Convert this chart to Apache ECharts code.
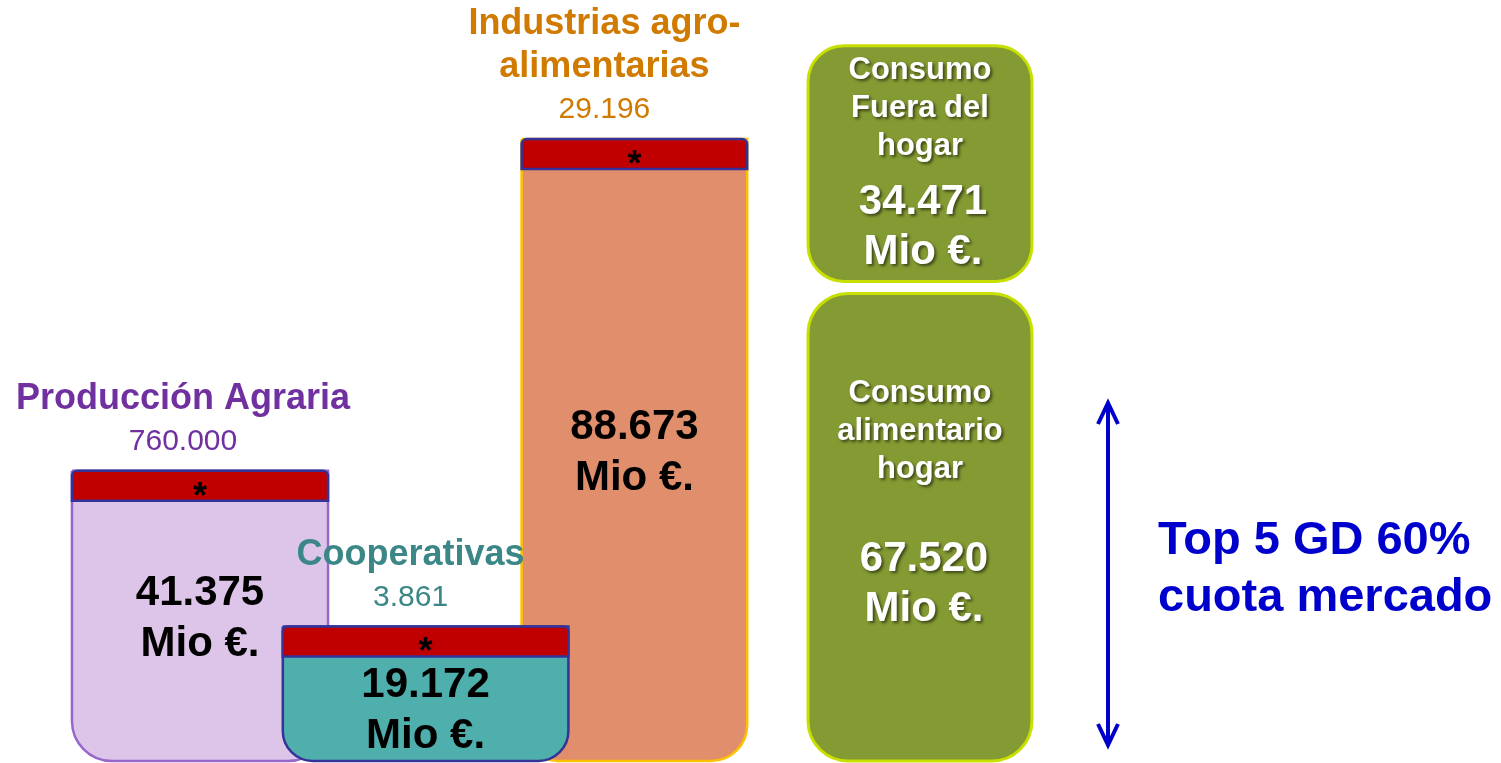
<!DOCTYPE html>
<html>
<head>
<meta charset="utf-8">
<script src="https://cdn.jsdelivr.net/npm/echarts@6/dist/echarts.min.js"></script>
<style>
html, body { margin: 0; padding: 0; background: #fff; }
#main { width: 1501px; height: 763px; }
</style>
</head>
<body>
<div id="main"></div>
<script>
// datos (Mio € y nº de entidades)
var stages = ['Producción Agraria', 'Cooperativas', 'Industrias agro-\nalimentarias'];
var stageValues = [41375, 19172, 88673];
var stageCounts = [760000, 3861, 29196];
var consumoNames = ['Consumo\nalimentario\nhogar', 'Consumo\nFuera del\nhogar'];
var consumoValues = [67520, 34471];
var noteText = 'Top 5 GD 60%\ncuota mercado';

var FONT = '"Liberation Sans", Arial, sans-serif';

function fmt(n) {
	return String(n).replace(/\B(?=(\d{3})+(?!\d))/g, '.');
}

// estilo de cada columna (desplazamiento y ancho en fracciones de la banda)
var stageStyle = [
	{ fill: '#dcc5e8', stroke: '#9966cc', color: '#7030a0', shift: 0, width: 1.067, r: 40, dx: -17 },
	{ fill: '#4fafac', stroke: '#333399', color: '#3b8787', shift: -0.06, width: 1.19, r: 30, dx: -15 },
	{ fill: '#e08e6b', stroke: '#ffc000', color: '#d17a00', shift: -0.19, width: 0.94, r: 36, dx: -30 }
];
var consumoStyle = [
	{ titleAt: 0.296, valueAt: 0.623, dx: 4, r: 40 },
	{ titleAt: 0.267, valueAt: 0.773, dx: 3, r: 36 }
];

// orden de dibujo: Producción, Industrias, Cooperativas, Consumo
var marks = [];
[0, 2, 1].forEach(function(i) {
	marks.push({ kind: 'stage', idx: i, value: [i, 0, stageValues[i]] });
});
var base = 0;
consumoValues.forEach(function(v, i) {
	marks.push({ kind: 'consumo', idx: i, value: [3, base, base + v] });
	base += v;
});

function renderItem(params, api) {
	var m = marks[params.dataIndex];
	var band = api.size([1, 0])[0];
	var p0 = api.coord([api.value(0), api.value(1)]);
	var p1 = api.coord([api.value(0), api.value(2)]);
	var children = [];

	if (m.kind === 'stage') {
		var st = stageStyle[m.idx];
		var w = st.width * band;
		var cx = p0[0] + st.shift * band;
		var x = cx - w / 2;
		var top = p1[1], bottom = p0[1];
		var capH = 30;
		var textY = Math.max((top + capH + bottom) / 2 - 12, top + capH + 54);
		children.push({
			type: 'rect',
			shape: { x: x, y: top, width: w, height: bottom - top, r: [0, 0, st.r, st.r] },
			style: { fill: st.fill, stroke: st.stroke, lineWidth: 2.5 }
		});
		children.push({
			type: 'rect',
			shape: { x: x, y: top, width: w, height: capH, r: [5, 5, 0, 0] },
			style: { fill: '#c00000', stroke: '#333399', lineWidth: 2.5 }
		});
		children.push({
			type: 'text',
			style: {
				text: '*', x: cx, y: top + capH / 2 + 12,
				align: 'center', verticalAlign: 'middle', textAlign: 'center', textVerticalAlign: 'middle',
				fill: '#000', fontSize: 36, fontWeight: 'bold', fontFamily: FONT
			}
		});
		children.push({
			type: 'text',
			style: {
				text: fmt(stageValues[m.idx]) + '\nMio €.', x: cx, y: textY,
				align: 'center', verticalAlign: 'middle', textAlign: 'center', textVerticalAlign: 'middle',
				lineHeight: 51, fill: '#000', fontSize: 42, fontWeight: 'bold', fontFamily: FONT
			}
		});
		children.push({
			type: 'text',
			style: {
				text: fmt(stageCounts[m.idx]), x: cx + st.dx, y: top - 29,
				align: 'center', verticalAlign: 'middle', textAlign: 'center', textVerticalAlign: 'middle',
				fill: st.color, fontSize: 30, fontFamily: FONT
			}
		});
		children.push({
			type: 'text',
			style: {
				text: stages[m.idx], x: cx + st.dx, y: top - 50,
				align: 'center', verticalAlign: 'bottom', textAlign: 'center', textVerticalAlign: 'bottom',
				lineHeight: 43, fill: st.color, fontSize: 36, fontWeight: 'bold', fontFamily: FONT
			}
		});
	} else {
		var cs = consumoStyle[m.idx];
		var w2 = 0.933 * band;
		var cx2 = p0[0];
		var top2 = p1[1] + (m.idx === 0 ? 6 : 0);
		var bottom2 = p0[1] - (m.idx === 1 ? 6 : 0);
		var h = bottom2 - top2;
		var shadow = {
			textShadowColor: 'rgba(0,0,0,0.55)', textShadowBlur: 3,
			textShadowOffsetX: 2, textShadowOffsetY: 2
		};
		children.push({
			type: 'rect',
			shape: { x: cx2 - w2 / 2, y: top2, width: w2, height: h, r: cs.r },
			style: { fill: '#849b33', stroke: '#c8e000', lineWidth: 3 }
		});
		children.push({
			type: 'text',
			style: Object.assign({
				text: consumoNames[m.idx], x: cx2, y: top2 + h * cs.titleAt,
				align: 'center', verticalAlign: 'middle', textAlign: 'center', textVerticalAlign: 'middle',
				lineHeight: 38, fill: '#fff', fontSize: 31, fontWeight: 'bold', fontFamily: FONT
			}, shadow)
		});
		children.push({
			type: 'text',
			style: Object.assign({
				text: fmt(consumoValues[m.idx]) + '\nMio €.', x: cx2 + cs.dx, y: top2 + h * cs.valueAt,
				align: 'center', verticalAlign: 'middle', textAlign: 'center', textVerticalAlign: 'middle',
				lineHeight: 50, fill: '#fff', fontSize: 42, fontWeight: 'bold', fontFamily: FONT
			}, shadow)
		});
	}
	return { type: 'group', children: children };
}

var myChart = echarts.init(document.getElementById('main'));
var option = {
	animation: false,
	backgroundColor: '#fff',
	grid: { left: 80, right: 461, top: 0, bottom: 2 },
	xAxis: {
		type: 'category',
		data: ['Producción Agraria', 'Cooperativas', 'Industrias agro-alimentarias', 'Consumo'],
		show: false
	},
	yAxis: { type: 'value', min: 0, max: 108500, show: false },
	series: [{
		type: 'custom',
		renderItem: renderItem,
		encode: { x: 0, y: [1, 2] },
		data: marks.map(function(m) { return m.value; })
	}],
	graphic: [{
		type: 'group',
		children: [{
			type: 'polyline',
			shape: { points: [[1108, 404], [1108, 744]] },
			style: { stroke: '#0000cc', lineWidth: 4 }
		}, {
			type: 'polyline',
			shape: { points: [[1098, 424], [1108, 403], [1118, 424]] },
			style: { stroke: '#0000cc', lineWidth: 4, lineJoin: 'miter' }
		}, {
			type: 'polyline',
			shape: { points: [[1098, 724], [1108, 745], [1118, 724]] },
			style: { stroke: '#0000cc', lineWidth: 4, lineJoin: 'miter' }
		}, {
			type: 'text',
			style: {
				text: noteText, x: 1158, y: 570,
				align: 'left', verticalAlign: 'middle', textAlign: 'left', textVerticalAlign: 'middle',
				lineHeight: 57, fill: '#0000cc', fontSize: 47, fontWeight: 'bold', fontFamily: FONT
			}
		}]
	}]
};
myChart.setOption(option);
</script>
</body>
</html>
